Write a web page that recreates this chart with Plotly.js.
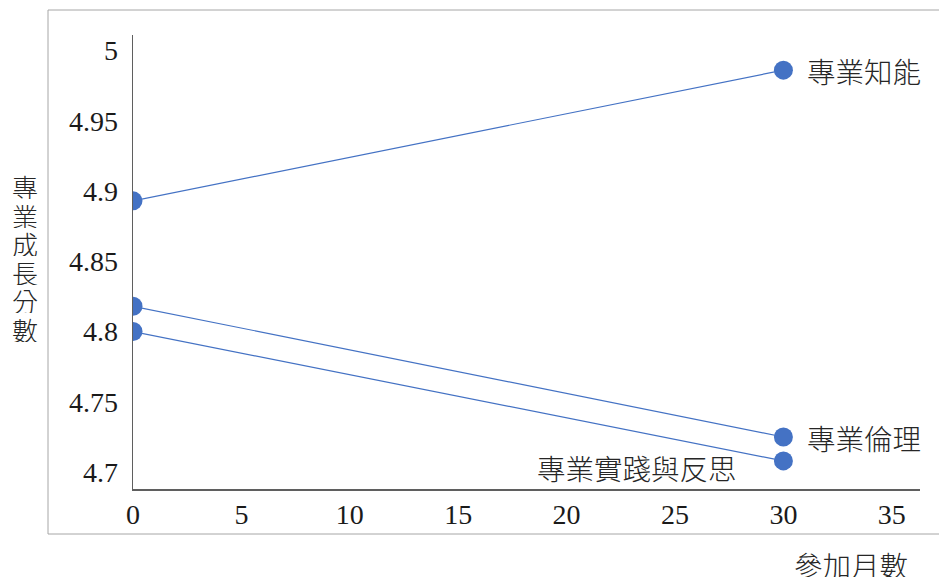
<!DOCTYPE html>
<html>
<head>
<meta charset="utf-8">
<script src="https://cdn.plot.ly/plotly-3.0.1.min.js"></script>
<style>html,body{margin:0;padding:0;background:#fff;}</style>
</head>
<body>
<div id="chart" style="width:939px;height:578px;"></div>
<script>
// Data
const months = [0, 30];
const seriesNames = ["專業知能", "專業倫理", "專業實踐與反思"];
const zhuanYeZhiNeng = [4.893, 4.986];
const zhuanYeLunLi = [4.818, 4.725];
const shiJianFanSi = [4.800, 4.708];
const xTickVals = [0, 5, 10, 15, 20, 25, 30, 35];
const yTickVals = [4.7, 4.75, 4.8, 4.85, 4.9, 4.95, 5];
const yTickText = ["4.7", "4.75", "4.8", "4.85", "4.9", "4.95", "5"];
const xTitle = "參加月數";
const yTitle = "專業成長分數";

const L = 133, R = 19, T = 35, B = 89, W = 939, H = 578;
const pw = W - L - R, ph = H - T - B;
const px = x => (x - L) / pw;
const py = y => (H - B - y) / ph;

const blue = "#4472C4";
const serif = "Liberation Serif";
const cjk = "Noto Sans CJK TC";
const cjkFont = () => ({family: cjk, size: 28.5, color: "#262626", weight: 300});

const allSeries = [zhuanYeZhiNeng, zhuanYeLunLi, shiJianFanSi];
const traces = allSeries.map((ys, i) => ({
  x: months, y: ys, name: seriesNames[i], type: "scatter", mode: "lines+markers",
  line: {color: blue, width: 1.2},
  marker: {color: blue, size: 19},
  hoverinfo: "x+y+name"
}));

const annotations = [
  {text: seriesNames[0], x: px(805), y: py(70), xanchor: "left", yanchor: "middle"},
  {text: seriesNames[1], x: px(805), y: py(437), xanchor: "left", yanchor: "middle"},
  {text: seriesNames[2], x: px(535), y: py(467), xanchor: "left", yanchor: "middle"},
  {text: xTitle, x: px(792), y: py(564), xanchor: "left", yanchor: "middle", height: 26}
].map(a => Object.assign({xref: "paper", yref: "paper", showarrow: false, font: cjkFont()}, a));

const yCharCenters = [186, 215, 243, 272, 300, 329];
[...yTitle].forEach((ch, i) => {
  annotations.push({text: ch, xref: "paper", yref: "paper", x: px(25), y: py(yCharCenters[i]),
    xanchor: "center", yanchor: "middle", showarrow: false, height: 26, borderpad: 0,
    font: {family: cjk, size: 26, color: "#262626", weight: 300}});
});

const layout = {
  width: W, height: H,
  margin: {l: L, r: R, t: T, b: B, pad: 0},
  paper_bgcolor: "#ffffff", plot_bgcolor: "rgba(0,0,0,0)",
  showlegend: false,
  font: {family: serif, size: 28, color: "#1a1a1a"},
  xaxis: {
    range: [0, 36.3], tickvals: xTickVals, ticktext: xTickVals.map(String),
    showgrid: false, zeroline: false, showline: true, linecolor: "#5f5f5f", linewidth: 1.5,
    ticks: "", fixedrange: true,
    tickfont: {family: serif, size: 28, color: "#1a1a1a"}
  },
  yaxis: {
    range: [4.688, 5.011], tickvals: yTickVals, ticktext: yTickText,
    showgrid: false, zeroline: false, showline: true, linecolor: "#5f5f5f", linewidth: 1.5,
    ticks: "outside", ticklen: 8, tickcolor: "rgba(0,0,0,0)", fixedrange: true,
    tickfont: {family: serif, size: 28, color: "#1a1a1a"}
  },
  shapes: [
    {type: "rect", xref: "paper", yref: "paper", x0: px(48), x1: px(945), y0: py(534), y1: py(10),
     line: {color: "#a6a6a6", width: 1}, fillcolor: "rgba(0,0,0,0)", layer: "below"}
  ],
  annotations: annotations
};

Plotly.newPlot("chart", traces, layout, {staticPlot: true});
</script>
</body>
</html>
